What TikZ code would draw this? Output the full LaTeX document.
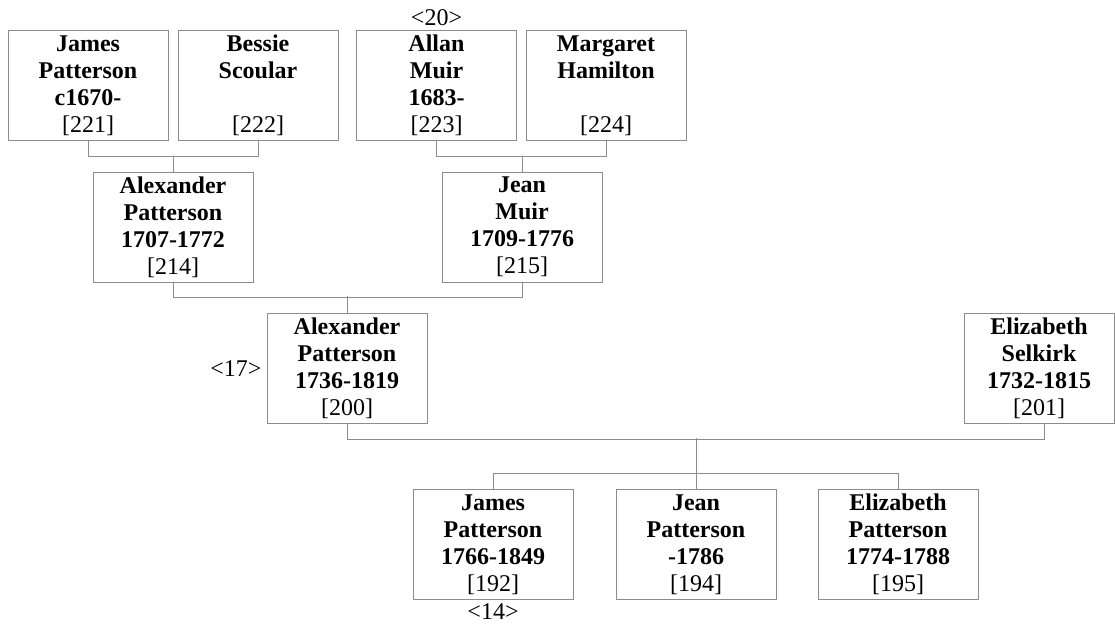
\documentclass[tikz,border=0pt]{standalone}
\usepackage{fontspec}
\setmainfont{Liberation Serif}
\usetikzlibrary{positioning}
\definecolor{linegray}{gray}{0.55}
\newcommand{\indiv}[4]{\textbf{#1}\\\textbf{#2}\\\strut\textbf{#3}\\{}[#4]}

\begin{document}
\begin{tikzpicture}[x=1pt,y=-1pt,
  person/.style={draw=linegray,line width=0.9pt,minimum width=160pt,
    minimum height=110pt,text width=150pt,align=center,inner sep=0pt,
    font=\fontsize{24}{27}\selectfont},
  gen/.style={inner sep=0pt,font=\fontsize{24}{27}\selectfont},
  link/.style={draw=linegray,line width=0.9pt}]
\useasboundingbox (0,0) rectangle (1115,628);
% great-grandparents
\node[person] (jp) at (88,85.5)  {\indiv{James}{Patterson}{c1670-}{221}};
\node[person] (bs) at (258,85.5) {\indiv{Bessie}{Scoular}{}{222}};
\node[person] (am) at (436.5,85.5) {\indiv{Allan}{Muir}{1683-}{223}};
\node[person] (mh) at (606,85.5) {\indiv{Margaret}{Hamilton}{}{224}};
\node[gen,above=4pt of am] (g20) {<20>};
% grandparents
\node[person] (ap) at (173,227) {\indiv{Alexander}{Patterson}{1707-1772}{214}};
\node[person] (jm) at (522,227) {\indiv{Jean}{Muir}{1709-1776}{215}};
% parents
\node[person] (apb) at (347,368.5) {\indiv{Alexander}{Patterson}{1736-1819}{200}};
\node[person,minimum width=150pt,text width=146pt] (es) at (1039,368.5)
  {\indiv{Elizabeth}{Selkirk}{1732-1815}{201}};
\node[gen,left=5pt of apb] (g17) {<17>};
% children
\node[person] (jsp) at (493,544.5) {\indiv{James}{Patterson}{1766-1849}{192}};
\node[person] (jnp) at (696,544.5) {\indiv{Jean}{Patterson}{-1786}{194}};
\node[person] (elp) at (898,544.5) {\indiv{Elizabeth}{Patterson}{1774-1788}{195}};
\node[gen,below=4pt of jsp] (g14) {<14>};
% family lines
\draw[link] (jp.south) -- ++(0,16) -| (bs.south);
\draw[link] (ap.north) -- ++(0,-16);
\draw[link] (am.south) -- ++(0,16) -| (mh.south);
\draw[link] (jm.north) -- ++(0,-16);
\draw[link] (ap.south) -- ++(0,15) -| (jm.south);
\draw[link] (apb.north) -- ++(0,-17);
\draw[link] ([xshift=0pt]apb.south) -- ++(0,15) -| ([xshift=5pt]es.south);
\draw[link] (jnp.north) -- ++(0,-51);
\draw[link] (jsp.north) -- ++(0,-16) -| (elp.north);
\end{tikzpicture}
\end{document}
